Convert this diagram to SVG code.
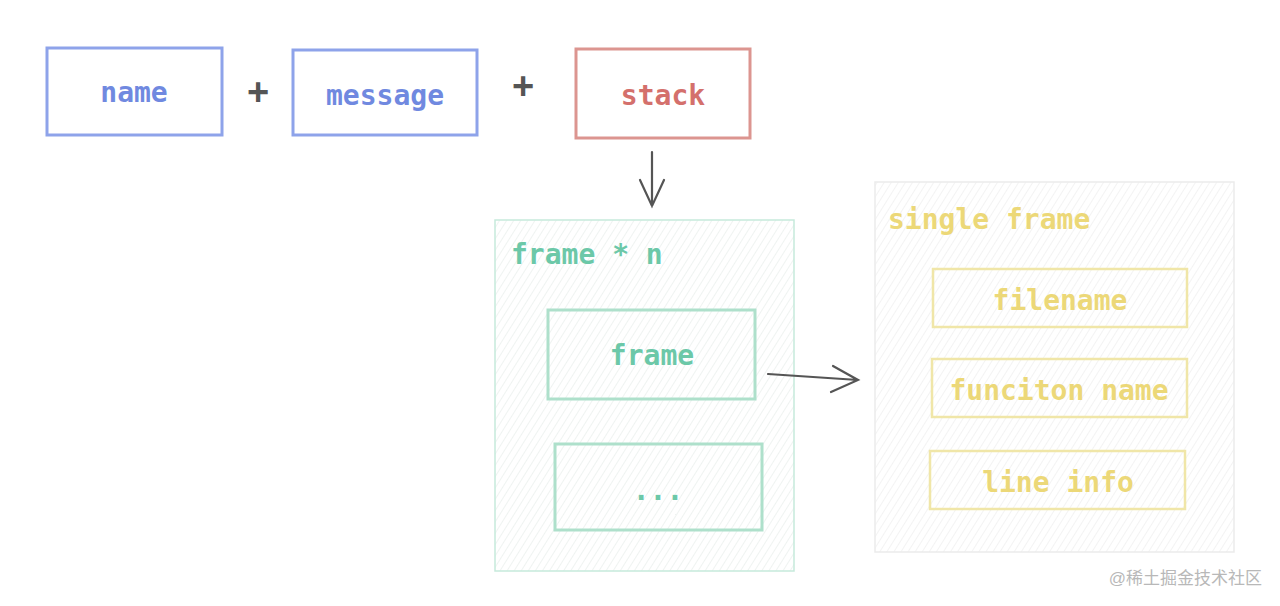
<svg xmlns="http://www.w3.org/2000/svg" width="1280" height="606" viewBox="0 0 1280 606">
<defs>
<style>
.t{font-family:"DejaVu Sans Mono","Liberation Mono",monospace;font-size:28px;font-weight:bold;text-anchor:middle;}
.tl{font-family:"DejaVu Sans Mono","Liberation Mono",monospace;font-size:28px;font-weight:bold;}
.blue{fill:none;stroke:#8ea3ea;stroke-width:3;}
.red{fill:none;stroke:#dc9590;stroke-width:3;}
.teal{fill:none;stroke:#aee0cb;stroke-width:3;}
.yel{fill:none;stroke:#f0e6a8;stroke-width:2.5;}
.conn{fill:none;stroke:#555;stroke-width:2.2;stroke-linecap:round;}
</style>
<pattern id="hatchT" width="6" height="6" patternUnits="userSpaceOnUse" patternTransform="rotate(32)">
<line x1="0" y1="0" x2="0" y2="6" stroke="#dfe8e4" stroke-width="1"/>
</pattern>
<pattern id="hatchG" width="6" height="6" patternUnits="userSpaceOnUse" patternTransform="rotate(32)">
<line x1="0" y1="0" x2="0" y2="6" stroke="#e8e8e8" stroke-width="1"/>
</pattern>
</defs>
<rect width="1280" height="606" fill="#ffffff"/>

<g id="name">
<rect class="blue" x="47" y="48" width="175" height="87"/>
<text class="t" x="134" y="102" fill="#7089e0">name</text>
</g>
<g id="plus1"><text x="258" y="105" font-family="Liberation Sans, sans-serif" font-size="38" font-weight="bold" fill="#555" text-anchor="middle">+</text></g>
<g id="message">
<rect class="blue" x="293" y="50" width="184" height="85"/>
<text class="t" x="385" y="105" fill="#7089e0">message</text>
</g>
<g id="plus2"><text x="523" y="99" font-family="Liberation Sans, sans-serif" font-size="38" font-weight="bold" fill="#555" text-anchor="middle">+</text></g>
<g id="stack">
<rect class="red" x="576" y="49" width="174" height="89"/>
<text class="t" x="663" y="105" fill="#d4706c">stack</text>
</g>

<g id="frames">
<rect x="495" y="220" width="299" height="351" fill="url(#hatchT)" stroke="#c6eadb" stroke-width="1.5"/>
<text class="tl" x="511" y="264" fill="#6cc8a8">frame * n</text>
</g>
<g id="frame">
<rect class="teal" x="548" y="310" width="207" height="89"/>
<text class="t" x="652" y="365" fill="#6cc8a8">frame</text>
</g>
<g id="more">
<rect class="teal" x="555" y="444" width="207" height="86"/>
<text class="t" x="658" y="500" fill="#6cc8a8">...</text>
</g>

<g id="single">
<rect x="875" y="182" width="359" height="370" fill="url(#hatchG)" stroke="#ebebeb" stroke-width="1.5"/>
<text class="tl" x="888" y="229" fill="#ecd878">single frame</text>
</g>
<g id="filename">
<rect class="yel" x="933" y="269" width="254" height="58"/>
<text class="t" x="1060" y="310" fill="#ecd878">filename</text>
</g>
<g id="funcname">
<rect class="yel" x="932" y="359" width="255" height="58"/>
<text class="t" x="1059" y="400" fill="#ecd878">funciton name</text>
</g>
<g id="lineinfo">
<rect class="yel" x="930" y="451" width="255" height="58"/>
<text class="t" x="1058" y="492" fill="#ecd878">line info</text>
</g>

<g id="connectors">
<path class="conn" d="M652 152 L652 206 M640 180 L652 206 L664 180"/>
<path class="conn" d="M768 374 L858 380 M833 366 L858 380 L831 392"/>
</g>

<g id="watermark">
<text x="1262" y="584" font-family="Liberation Sans, Noto Sans CJK SC, sans-serif" font-size="17" fill="#b8b8b8" text-anchor="end">@稀土掘金技术社区</text>
</g>
</svg>
